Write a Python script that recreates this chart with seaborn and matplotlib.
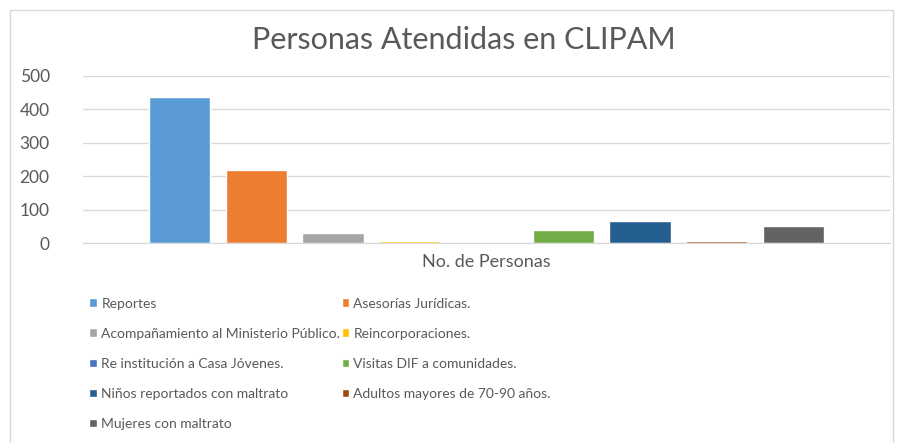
import pandas as pd
import matplotlib.pyplot as plt
import seaborn as sns
from matplotlib.patches import Rectangle

# data
categorias = ["Reportes", "Asesorías Jurídicas.", "Acompañamiento al Ministerio Público.",
              "Reincorporaciones.", "Re institución a Casa Jóvenes.", "Visitas DIF a comunidades.",
              "Niños reportados con maltrato", "Adultos mayores de 70-90 años.", "Mujeres con maltrato"]
valores = [437, 220, 32, 8, 0, 40, 67, 8, 52]
grupo = ["No. de Personas"] * len(categorias)
colores = ["#5B9BD5", "#ED7D31", "#A5A5A5", "#FFC000", "#4472C4",
           "#70AD47", "#255E91", "#9E480E", "#636363"]

df = pd.DataFrame({"grupo": grupo, "categoria": categorias, "valor": valores})

sns.set_style("white")
plt.rcParams['font.family'] = ['Lato', 'DejaVu Sans']
gris = "#595959"

fig = plt.figure(figsize=(9.03, 4.43), dpi=100)
ax = fig.add_axes([83 / 903, 199.7 / 443, 807 / 903, 167.3 / 443])

sns.barplot(data=df, x="grupo", y="valor", hue="categoria", hue_order=categorias,
            palette=colores, width=0.856, gap=0.2, saturation=1, ax=ax)

ax.set_ylim(0, 500)
ax.set_xlim(-0.5, 0.5)
ax.set_yticks(range(0, 501, 100))
ax.yaxis.grid(True, color="#D9D9D9", linewidth=1)
ax.set_axisbelow(True)
for s in ["top", "right", "left"]:
    ax.spines[s].set_visible(False)
ax.spines["bottom"].set_color("#D9D9D9")
ax.tick_params(axis="both", length=0, colors=gris)
ax.tick_params(axis="y", pad=24, labelsize=12.5)
ax.tick_params(axis="x", pad=8, labelsize=13)
ax.set_xlabel("")
ax.set_ylabel("")

fig.text(464 / 903, 1 - 40 / 443, "Personas Atendidas en CLIPAM", ha="center", va="center",
         fontsize=22, color=gris)

# legend filled row by row, like the original
old = ax.get_legend()
handles = old.legend_handles
labels = [t.get_text() for t in old.get_texts()]
old.remove()
orden = [0, 2, 4, 6, 8, 1, 3, 5, 7]
ax.legend([handles[i] for i in orden], [labels[i] for i in orden],
          loc="upper left", bbox_to_anchor=(77 / 903, 1 - 285 / 443),
          bbox_transform=fig.transFigure, ncol=2, frameon=False,
          fontsize=10, labelcolor=gris, handlelength=0.55, handleheight=0.55,
          handletextpad=0.3, columnspacing=0.1, labelspacing=1.3)

fig.patches.append(Rectangle((10 / 903, -0.05), 883 / 903, 1 - 10 / 443 + 0.05,
                             transform=fig.transFigure, fill=False,
                             edgecolor="#D9D9D9", linewidth=1))

fig.savefig("out.png", dpi=100, facecolor="white")
